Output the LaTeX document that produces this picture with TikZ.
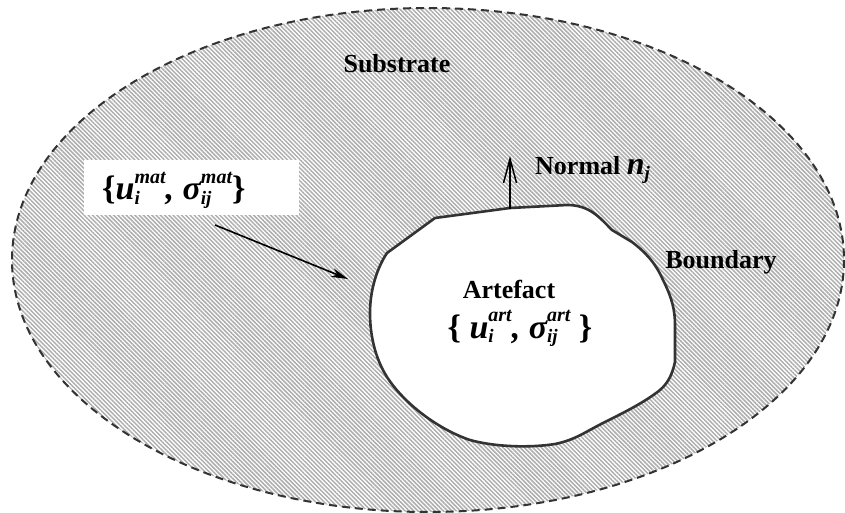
\documentclass[tikz,border=0pt]{standalone}
\usepackage{fontspec}
\setmainfont{Liberation Serif}
\usetikzlibrary{patterns.meta,arrows.meta}
\newcommand{\stk}[3]{#1\makebox[0pt][l]{\raisebox{-0.13em}{\fontsize{19}{19}\selectfont #2}}\raisebox{0.5em}{\fontsize{20}{20}\selectfont #3}}
\tikzset{
  lbl/.style={font=\fontsize{26}{30}\selectfont\bfseries, inner sep=0pt},
  mathlbl/.style={font=\fontsize{34}{38}\selectfont\bfseries\itshape, inner sep=0pt},
  outline/.style={draw=black!80, line width=2pt, dash pattern=on 8pt off 5pt},
  blob/.style={draw=black!80, line width=2.6pt, fill=white, line join=round},
}
\begin{document}
\begin{tikzpicture}[x=1pt,y=-1pt]
\useasboundingbox (0,0) rectangle (845,513);
% substrate
\path[pattern={Lines[angle=-45,distance=3pt,line width=1.5pt]}, pattern color=black!32]
  (428,260) ellipse [x radius=416, y radius=252];
\draw[outline] (428,260) ellipse [x radius=416, y radius=252];
% artefact
\draw[blob] (435,218) -- (510,208) -- (567,205)
  .. controls (590,205) and (600,218) .. (612,230)
  -- (632,242)
  .. controls (645,252) and (655,262) .. (663,280)
  .. controls (672,298) and (675,310) .. (675,325)
  -- (675,362)
  .. controls (672,375) and (668,383) .. (660,390)
  .. controls (645,402) and (625,412) .. (605,422)
  .. controls (585,432) and (575,440) .. (555,444)
  .. controls (530,448) and (495,447) .. (470,440)
  .. controls (440,430) and (405,405) .. (387,377)
  .. controls (375,358) and (370,335) .. (370,313)
  .. controls (370,290) and (377,268) .. (387,253)
  -- cycle;
% mat label box
\fill[white] (84,160) rectangle (299,215);
\node[mathlbl, anchor=base west] (mat) at (102,200)
  {{\upshape\{}\stk{u}{i}{mat}, \stk{σ}{ij}{mat}{\upshape\}}};
\coordinate (matstart) at (215,225);
\coordinate (matend) at (348,279);
\draw[line width=1.6pt, -{Stealth[length=17pt,width=9pt]}] (matstart) -- (matend);
% normal
\coordinate (nbase) at (510,209);
\coordinate (ntip) at (510,156);
\draw[line width=1.5pt, -{Straight Barb[length=24pt,width=13pt]}] (nbase) -- (ntip);
\node[lbl, anchor=base west] (normal) at (535,175)
  {Normal {\fontsize{32}{34}\selectfont\itshape\stk{n}{j}{}}};
% labels
\node[lbl, anchor=base] (substrate) at (397,73) {Substrate};
\node[lbl, anchor=base] (boundary) at (721,268) {Boundary};
\node[lbl, anchor=base] (artefact) at (509,298) {Artefact};
\node[mathlbl, anchor=base] (art) at (520,338)
  {{\upshape\{} \stk{u}{i}{art}, \stk{σ}{ij}{art} {\upshape\}}};
\end{tikzpicture}
\end{document}
